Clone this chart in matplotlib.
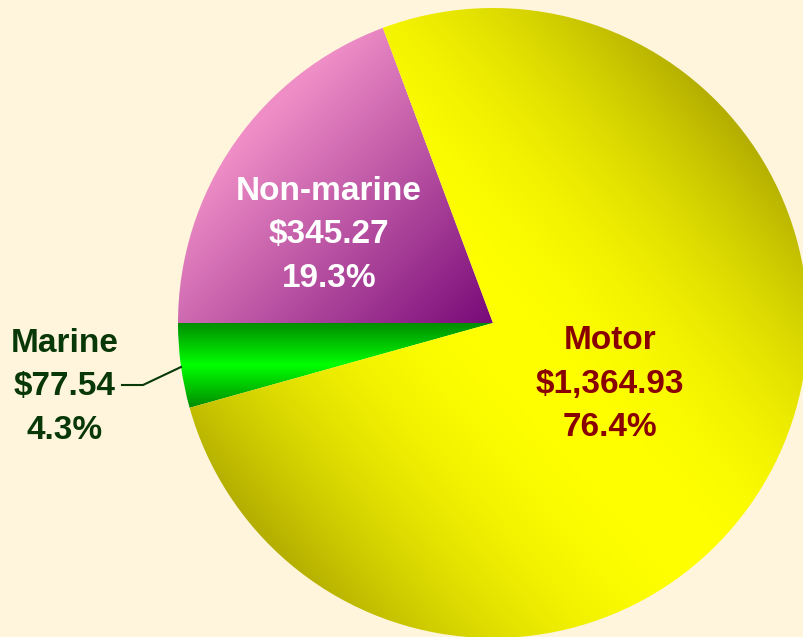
import numpy as np
import matplotlib.pyplot as plt

# ---- data ----
labels = ["Non-marine", "Marine", "Motor"]
amounts = [345.27, 77.54, 1364.93]
percents = [19.3, 4.3, 76.4]
text_colors = ["white", "#083808", "#880000"]

W, H = 804, 637
cx, cy, R = 493, H - 323, 315

plt.rcParams['font.family'] = ['Liberation Sans', 'DejaVu Sans']

fig = plt.figure(figsize=(W / 100, H / 100), dpi=100)
fig.patch.set_facecolor('#FFF5DC')
ax = fig.add_axes([0, 0, 1, 1])
ax.set_facecolor('#FFF5DC')

share0 = amounts[0] / sum(amounts)
wedges, _ = ax.pie(amounts, startangle=180 - share0 * 360, counterclock=True,
                   center=(cx, cy), radius=R, wedgeprops=dict(linewidth=0))
ax.set_xlim(0, W)
ax.set_ylim(0, H)
ax.set_aspect('equal')
ax.axis('off')

# ---- gradient fills clipped to each wedge ----
X, Y = np.meshgrid(np.arange(W) + 0.5, np.arange(H) + 0.5)
dx, dy = (X - cx) / R, (Y - cy) / R


def lerp(c0, c1, t):
    c0 = np.array(c0)[None, None, :]
    c1 = np.array(c1)[None, None, :]
    return c0 + (c1 - c0) * t[..., None]


# Non-marine: pink at upper-left -> purple at the centre
u = np.array([1, -1]) / np.sqrt(2)
t = np.clip(-(dx * u[0] + dy * u[1]) / 0.98, 0, 1)
img_nm = lerp((0.47, 0.04, 0.47), (0.94, 0.56, 0.78), t)

# Marine: dark green at edges, bright green in the middle
ym = (H - 365 - cy) / R
t = np.clip(np.abs(dy - ym) / (42 / R), 0, 1)
img_ma = lerp((0.0, 1.0, 0.0), (0.0, 0.55, 0.0), t)

# Motor: bright yellow along a diagonal band, olive towards the edges
ang = np.deg2rad(41)
t = np.clip(np.abs(dx * np.cos(ang) + dy * np.sin(ang)), 0, 1) ** 2
img_mo = lerp((1.0, 1.0, 0.0), (0.70, 0.68, 0.0), t)

for w, img in zip(wedges, [img_nm, img_ma, img_mo]):
    w.set_facecolor('none')
    im = ax.imshow(img, extent=(0, W, 0, H), origin='lower', interpolation='bilinear', zorder=1)
    im.set_clip_path(w)

# ---- labels ----
label_pos = [(329, H - 235), (65, H - 387), (610, H - 384)]
for name, amt, pct, col, (x, y) in zip(labels, amounts, percents, text_colors, label_pos):
    ax.text(x, y, f"{name}\n${amt:,.2f}\n{pct:.1f}%", ha='center', va='center',
            fontsize=24, fontweight='bold', color=col, linespacing=1.52, zorder=3)

# leader line for Marine
ax.plot([122, 143, 181], [H - 385, H - 385, H - 367], color='#083808', lw=1.5, zorder=3)

fig.savefig('out.png', dpi=100, facecolor=fig.get_facecolor())
